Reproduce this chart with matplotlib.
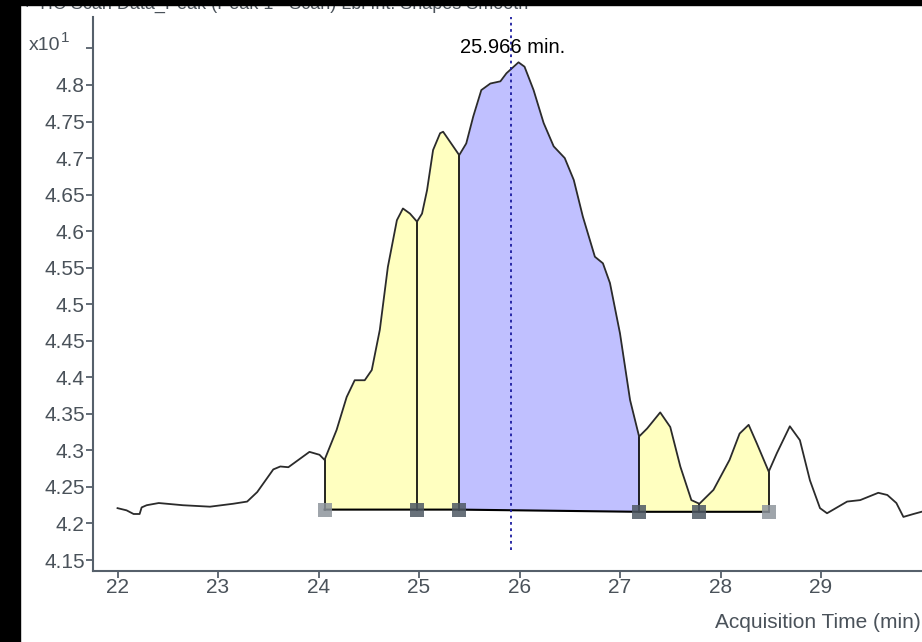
import matplotlib

matplotlib.use("Agg")

import matplotlib.pyplot as plt
import numpy as np
from matplotlib.patches import Rectangle

# chromatogram trace (x10^1 counts)
time_min = [
    22.00, 22.09, 22.16, 22.22, 22.24, 22.29, 22.41, 22.65, 22.92, 23.15,
    23.29, 23.39, 23.55, 23.62, 23.70, 23.78, 23.91, 24.01, 24.06, 24.18,
    24.28, 24.36, 24.46, 24.53, 24.61, 24.69, 24.78, 24.84, 24.91, 24.98,
    25.03, 25.08, 25.14, 25.21, 25.24, 25.34, 25.40, 25.47, 25.54, 25.62,
    25.71, 25.81, 25.87, 25.99, 26.05, 26.14, 26.24, 26.34, 26.45, 26.54,
    26.63, 26.75, 26.83, 26.90, 27.00, 27.10, 27.19, 27.27, 27.40, 27.50,
    27.60, 27.71, 27.79, 27.93, 28.09, 28.19, 28.28, 28.36, 28.48, 28.56,
    28.69, 28.79, 28.89, 28.99, 29.06, 29.26, 29.39, 29.57, 29.66, 29.75,
    29.82, 29.92, 30.00,
]
signal = [
    4.221, 4.218, 4.213, 4.213, 4.222, 4.225, 4.228, 4.225, 4.223, 4.227,
    4.230, 4.243, 4.274, 4.278, 4.277, 4.285, 4.298, 4.294, 4.287, 4.328,
    4.373, 4.396, 4.396, 4.410, 4.465, 4.551, 4.615, 4.631, 4.624, 4.613,
    4.624, 4.656, 4.711, 4.734, 4.736, 4.716, 4.704, 4.720, 4.757, 4.793,
    4.802, 4.805, 4.816, 4.831, 4.825, 4.793, 4.748, 4.716, 4.700, 4.670,
    4.620, 4.565, 4.556, 4.529, 4.460, 4.369, 4.319, 4.330, 4.352, 4.332,
    4.278, 4.232, 4.227, 4.246, 4.287, 4.323, 4.335, 4.310, 4.271, 4.296,
    4.333, 4.314, 4.259, 4.221, 4.214, 4.230, 4.232, 4.242, 4.239, 4.228,
    4.209, 4.213, 4.216,
]

# integration boundaries and baseline levels
bound_t = [24.06, 24.98, 25.40, 27.19, 27.79, 28.48]
bound_base = [4.219, 4.219, 4.219, 4.216, 4.216, 4.216]
segment_kind = ["minor", "minor", "main", "minor", "minor"]
marker_kind = ["light", "dark", "dark", "dark", "dark", "light"]

apex_time = 25.92
apex_label = "25.966 min."

x_ticks = [22, 23, 24, 25, 26, 27, 28, 29]
y_ticks = [4.15, 4.2, 4.25, 4.3, 4.35, 4.4, 4.45, 4.5, 4.55, 4.6, 4.65, 4.7, 4.75, 4.8, 4.85]
y_tick_labels = ["4.15", "4.2", "4.25", "4.3", "4.35", "4.4", "4.45", "4.5",
                 "4.55", "4.6", "4.65", "4.7", "4.75", "4.8", ""]

FILL_COLORS = {"minor": "#ffffc0", "main": "#c0c0ff"}
MARKER_COLORS = {"light": "#8e959c", "dark": "#4e5863"}
AXIS_COLOR = "#56606b"
TEXT_COLOR = "#4a525a"

plt.rcParams["font.family"] = ["Liberation Sans", "DejaVu Sans"]

fig = plt.figure(figsize=(9.22, 6.42), dpi=100)
fig.patch.set_facecolor("white")
ax = fig.add_axes([93 / 922, 1 - 571 / 642, 1 - 93 / 922, (571 - 17) / 642])

t = np.array(time_min)
s = np.array(signal)

for i, kind in enumerate(segment_kind):
    t0, t1 = bound_t[i], bound_t[i + 1]
    m = (t >= t0 - 1e-9) & (t <= t1 + 1e-9)
    base = np.interp(t[m], [t0, t1], [bound_base[i], bound_base[i + 1]])
    ax.fill_between(t[m], base, s[m], color=FILL_COLORS[kind], lw=0, zorder=1)

ax.plot(bound_t, bound_base, color="black", lw=1.5, zorder=3)
for bt, bb in zip(bound_t, bound_base):
    top = np.interp(bt, t, s)
    ax.plot([bt, bt], [bb, top], color="black", lw=1.2, zorder=3)

ax.plot(t, s, color="#2b2b2b", lw=1.3, zorder=4)

for bt, bb, mk in zip(bound_t, bound_base, marker_kind):
    ax.plot(bt, bb, marker="s", markersize=10.5, color=MARKER_COLORS[mk],
            markeredgewidth=0, alpha=0.85, zorder=5)

ax.plot([apex_time, apex_time], [4.164, 4.893], color="#1c1ca0", lw=1.3,
        linestyle=(0, (1.5, 2.0)), zorder=6, clip_on=False)
ax.text(apex_time + 0.01, 4.851, apex_label, ha="center", va="center",
        fontsize=14.5, color="black", zorder=7)

ax.set_xlim(21.756, 30.005)
ax.set_ylim(4.135, 4.893)
ax.set_xticks(x_ticks)
ax.set_xticklabels([str(v) for v in x_ticks])
ax.set_yticks(y_ticks)
ax.set_yticklabels(y_tick_labels)

for side in ["top", "right"]:
    ax.spines[side].set_visible(False)
for side in ["left", "bottom"]:
    ax.spines[side].set_color(AXIS_COLOR)
    ax.spines[side].set_linewidth(1.5)
ax.tick_params(axis="y", direction="out", length=5, width=1.3, color=AXIS_COLOR,
               labelsize=15, labelcolor=TEXT_COLOR, pad=1)
ax.tick_params(axis="x", direction="out", length=5, width=1.3, color=AXIS_COLOR,
               labelsize=15, labelcolor=TEXT_COLOR, pad=0)
ax.set_facecolor("white")

fig.text(0.999, 1 - 623 / 642, "Acquisition Time (min)", ha="right", va="center",
         fontsize=15, color=TEXT_COLOR)
fig.text(29 / 922, 1 - 45 / 642, "x10", ha="left", va="center", fontsize=14, color=TEXT_COLOR)
fig.text(61 / 922, 1 - 38 / 642, "1", ha="left", va="center", fontsize=11, color=TEXT_COLOR)

# window title, mostly hidden behind the black frame
fig.text(22 / 922, 1 - 4 / 642, "+ TIC Scan Data_Peak (Peak 1 - Scan) Lbl Int: Shapes Smooth",
         ha="left", va="center", fontsize=13, color=TEXT_COLOR)
fig.patches.append(Rectangle((0, 1 - 5 / 642), 1, 5 / 642, transform=fig.transFigure,
                             color="black", zorder=20))
fig.patches.append(Rectangle((0, 0), 20 / 922, 1, transform=fig.transFigure,
                             color="black", zorder=20))

fig.savefig("out.png", dpi=100)
